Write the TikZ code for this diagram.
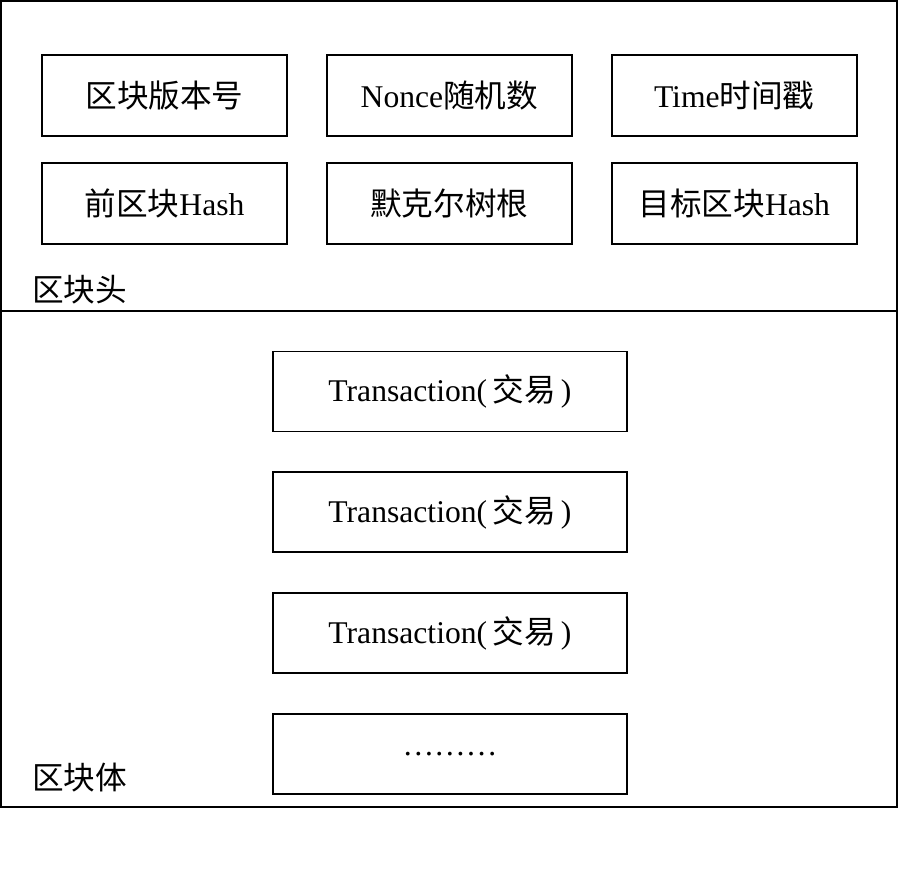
\documentclass[tikz,border=0pt]{standalone}
\usepackage{fontspec}
\setmainfont{Liberation Serif}
\newfontfamily\cjk{Noto Sans CJK SC}
\usetikzlibrary{positioning}

\tikzset{
  field/.style={draw, line width=1.1pt, minimum width=4.9cm, minimum height=1.62cm, inner sep=0pt},
  txbox/.style={draw, line width=1.1pt, minimum width=7.08cm, minimum height=1.6cm, inner sep=0pt},
  part/.style={anchor=west, inner sep=0pt}
}

\begin{document}
\begin{tikzpicture}[x=0.02cm, y=-0.02cm, font=\fontsize{18}{21}\selectfont]
    \useasboundingbox (0,0) rectangle (899,887);

    % Outer frame of the block and the line between header and body
    \draw[line width=1.2pt] (1,1) rectangle (897,807);
    \coordinate (divl) at (1,311);
    \coordinate (divr) at (897,311);
    \draw[line width=1.2pt] (divl) -- (divr);

    % Block header fields
    \node[field] (version) at (164.5,95.5) {{\cjk 区块版本号}};
    \node[field, right=0.76cm of version] (nonce) {Nonce{\cjk 随机数}};
    \node[field, right=0.76cm of nonce] (time) {Time{\cjk 时间戳}};
    \node[field, below=0.5cm of version] (prevhash) {{\cjk 前区块}Hash};
    \node[field, below=0.5cm of nonce] (merkle) {{\cjk 默克尔树根}};
    \node[field, below=0.5cm of time] (target) {{\cjk 目标区块}Hash};
    \node[part] (header) at (32,290) {{\cjk 区块头}};

    % Block body: the transactions
    \node[txbox] (tx1) at (450,391.5) {Transaction(\,{\cjk 交易}\,)};
    \node[txbox, below=0.78cm of tx1] (tx2) {Transaction(\,{\cjk 交易}\,)};
    \node[txbox, below=0.78cm of tx2] (tx3) {Transaction(\,{\cjk 交易}\,)};
    \node[txbox, below=0.78cm of tx3] (txmore) {………};
    \node[part] (body) at (32,778) {{\cjk 区块体}};
\end{tikzpicture}
\end{document}
